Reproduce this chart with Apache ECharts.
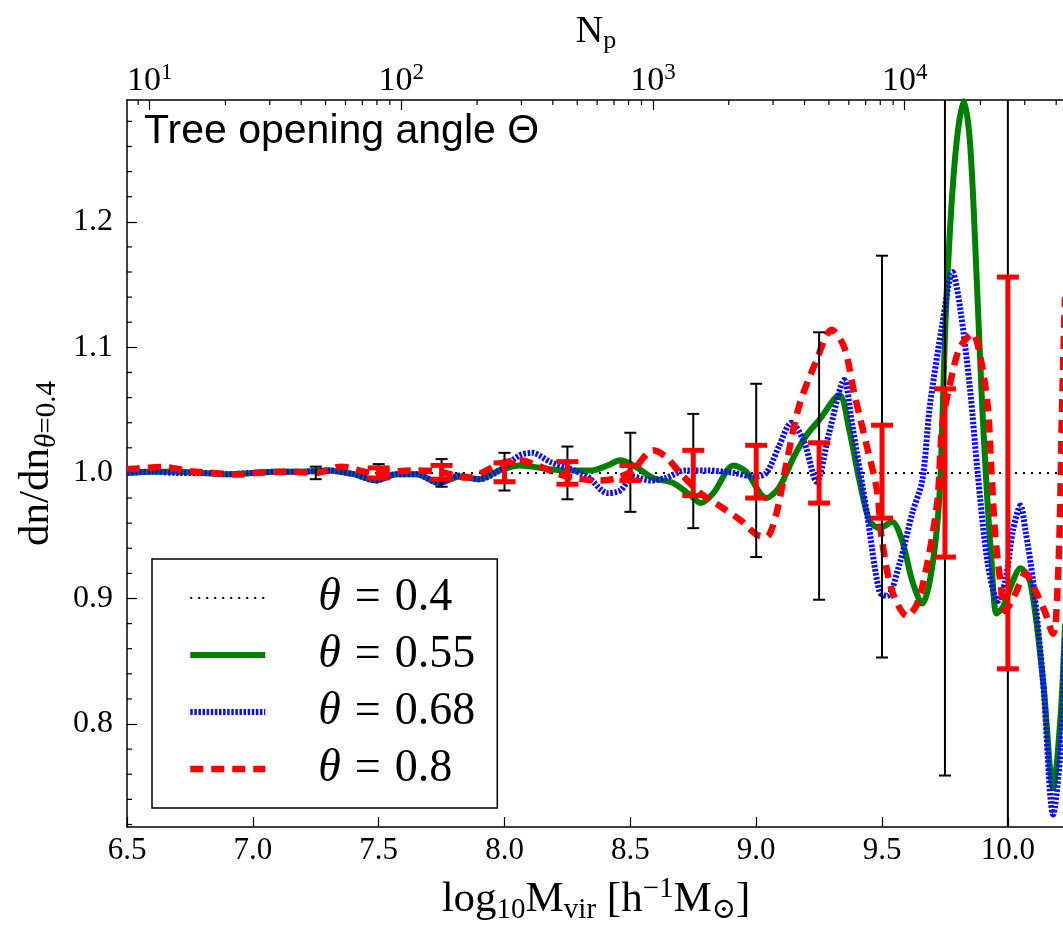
<!DOCTYPE html>
<html>
<head>
<meta charset="utf-8">
<script src="https://cdn.jsdelivr.net/npm/echarts@6/dist/echarts.min.js"></script>
<style>html,body{margin:0;padding:0;background:#fff}#c{width:1063px;height:927px}</style>
</head>
<body>
<div id="c"></div>
<script>
// ---------- axis ranges / ticks ----------
const X_MIN = 6.5, X_MAX = 10.227;
const Y_MIN = 0.718, Y_MAX = 1.297;
const NP_OFFSET = 5.59;                 // log10 M = log10 Np + offset
const Y_MINOR_TICKS = [0.72,0.74,0.76,0.78,0.82,0.84,0.86,0.88,0.92,0.94,0.96,0.98,1.02,1.04,1.06,1.08,1.12,1.14,1.16,1.18,1.22,1.24,1.26,1.28];
const NP_MINOR_TICKS = [9,20,30,40,50,60,70,80,90,200,300,400,500,600,700,800,900,2000,3000,4000,5000,6000,7000,8000,9000,20000,30000,40000];

// ---------- series ----------
const REF_X = [6.5, 10.3];
const REF_Y = [1.0, 1.0];

const GREEN_X = [6.50,6.60,6.70,6.80,6.90,7.00,7.10,7.20,7.30,7.40,7.49,7.57,7.65,7.74,7.82,7.90,7.98,8.06,8.11,8.18,8.25,8.35,8.41,8.46,8.52,8.59,8.67,8.74,8.78,8.83,8.91,8.96,9.04,9.09,9.15,9.20,9.25,9.33,9.37,9.41,9.45,9.49,9.54,9.58,9.62,9.66,9.69,9.72,9.735,9.75,9.775,9.80,9.825,9.85,9.875,9.895,9.915,9.935,9.955,9.98,10.02,10.05,10.09,10.14,10.18,10.21,10.227];
const GREEN_Y = [1.000,1.001,1.001,1.000,0.999,1.000,1.001,1.001,1.002,0.999,0.994,0.999,0.999,0.992,0.997,0.995,1.002,1.006,1.005,1.003,1.002,1.002,1.006,1.010,1.005,0.996,0.992,0.982,0.976,0.984,1.006,1.001,0.980,0.988,1.013,1.030,1.042,1.062,1.034,0.994,0.962,0.956,0.961,0.946,0.914,0.896,0.914,0.960,1.010,1.110,1.210,1.270,1.296,1.262,1.160,1.066,0.990,0.930,0.888,0.893,0.914,0.924,0.912,0.834,0.749,0.808,0.880];

const BLUE_X = [6.50,6.60,6.70,6.80,6.90,7.00,7.10,7.20,7.30,7.40,7.49,7.57,7.65,7.74,7.82,7.90,7.98,8.06,8.11,8.18,8.25,8.33,8.41,8.46,8.51,8.58,8.64,8.72,8.80,8.91,8.99,9.04,9.09,9.14,9.19,9.24,9.29,9.35,9.38,9.44,9.49,9.52,9.57,9.62,9.66,9.69,9.74,9.78,9.81,9.85,9.88,9.92,9.96,9.99,10.02,10.05,10.07,10.10,10.14,10.18,10.21,10.227];
const BLUE_Y = [1.000,1.001,1.000,1.000,0.999,1.000,1.001,1.001,1.002,0.999,0.994,0.999,0.999,0.992,0.998,0.995,1.002,1.014,1.016,1.009,1.004,0.997,0.984,0.986,0.997,0.994,0.996,1.002,1.002,1.000,0.997,1.000,1.021,1.040,1.025,0.993,1.032,1.074,1.040,0.968,0.905,0.902,0.928,0.968,0.994,1.053,1.119,1.160,1.132,1.066,1.000,0.928,0.898,0.914,0.954,0.974,0.954,0.914,0.834,0.728,0.781,0.870];

const RED_X = [6.50,6.54,6.64,6.75,6.84,6.94,7.03,7.15,7.25,7.35,7.48,7.64,7.74,7.85,7.99,8.06,8.13,8.21,8.29,8.38,8.44,8.51,8.56,8.59,8.64,8.70,8.78,8.86,8.94,9.00,9.04,9.08,9.12,9.17,9.24,9.30,9.35,9.39,9.44,9.48,9.50,9.54,9.60,9.64,9.68,9.72,9.74,9.78,9.81,9.86,9.89,9.92,9.935,9.95,9.97,9.99,10.03,10.07,10.11,10.15,10.18,10.19,10.205,10.215,10.227];
const RED_Y = [1.003,1.0035,1.0048,1.0014,1.000,0.9987,1.0003,1.001,1.000,1.005,1.000,1.002,1.001,0.9963,1.008,1.010,1.006,0.9995,0.9955,0.994,0.9955,1.002,1.014,1.018,1.013,0.9995,0.9836,0.973,0.962,0.951,0.949,0.9676,1.0075,1.053,1.090,1.114,1.100,1.063,1.021,0.986,0.946,0.906,0.886,0.896,0.928,0.978,1.039,1.080,1.100,1.111,1.093,1.053,1.000,0.950,0.914,0.890,0.904,0.920,0.906,0.888,0.872,0.880,0.950,1.050,1.140];

// error bars (theta = 0.4, black) and (theta = 0.8, red)
const ERR_BLACK_X  = [7.25,7.50,7.75,8.00,8.25,8.50,8.75,9.00,9.25,9.50,9.75,10.00];
const ERR_BLACK_LO = [0.995,0.995,0.989,0.986,0.979,0.969,0.956,0.933,0.899,0.853,0.759,0.600];
const ERR_BLACK_HI = [1.005,1.007,1.011,1.016,1.021,1.032,1.047,1.071,1.112,1.173,1.400,1.400];
const ERR_RED_X  = [7.50,7.75,8.00,8.25,8.50,8.75,9.00,9.25,9.50,9.75,10.00];
const ERR_RED_LO = [0.996,0.995,0.993,0.991,0.994,0.982,0.980,0.976,0.964,0.933,0.844];
const ERR_RED_HI = [1.004,1.006,1.008,1.009,1.006,1.018,1.022,1.024,1.038,1.067,1.156];

const NAMES = ['θ = 0.4', 'θ = 0.55', 'θ = 0.68', 'θ = 0.8'];

// ---------- build ----------
const zip = (xs, ys) => xs.map((x, i) => [x, ys[i]]);
const zip3 = (xs, a, b) => xs.map((x, i) => [x, a[i], b[i]]);
const SERIF = '"Liberation Serif", "DejaVu Serif", serif';

function errRender(color, lw, capW, capLw) {
  return function (params, api) {
    const x = api.value(0), lo = api.value(1), hi = api.value(2);
    const p1 = api.coord([x, lo]), p2 = api.coord([x, hi]);
    const h = capW / 2;
    return { type: 'group', children: [
      { type: 'line', shape: { x1: p1[0], y1: p1[1], x2: p2[0], y2: p2[1] }, style: { stroke: color, lineWidth: lw } },
      { type: 'line', shape: { x1: p1[0] - h, y1: p1[1], x2: p1[0] + h, y2: p1[1] }, style: { stroke: color, lineWidth: capLw } },
      { type: 'line', shape: { x1: p2[0] - h, y1: p2[1], x2: p2[0] + h, y2: p2[1] }, style: { stroke: color, lineWidth: capLw } }
    ]};
  };
}

const chart = echarts.init(document.getElementById('c'), null, { renderer: 'canvas' });
const option = {
  backgroundColor: '#fff',
  animation: false,
  title: {
    text: 'Tree opening angle Θ',
    left: 139, top: 106,
    textStyle: { fontFamily: '"Liberation Sans", Arial, sans-serif', fontSize: 41, fontWeight: 'normal', color: '#000' }
  },
  grid: { left: 127, right: -2, top: 100, bottom: 100, containLabel: false, outerBoundsMode: 'none' },
  legend: {
    data: NAMES,
    orient: 'vertical',
    left: 152, top: 559,
    padding: [16, 22, 16, 35],
    itemWidth: 75, itemHeight: 20, itemGap: 11,
    backgroundColor: '#fff', borderColor: '#000', borderWidth: 1.5, borderRadius: 0,
    lineStyle: { width: 'inherit' },
    itemStyle: { opacity: 0 },
    selectedMode: false,
    formatter: n => '{t|θ}{e|=}{n|' + n.split('= ')[1] + '}',
    textStyle: {
      color: '#000',
      rich: {
        t: { fontFamily: SERIF, fontStyle: 'italic', fontSize: 46, lineHeight: 46, padding: [0, 0, 0, 48], color: '#000' },
        e: { fontFamily: SERIF, fontSize: 46, lineHeight: 46, padding: [0, 14, 0, 14], color: '#000' },
        n: { fontFamily: SERIF, fontSize: 46, lineHeight: 46, color: '#000' }
      }
    }
  },
  xAxis: [
    {
      type: 'value', min: X_MIN, max: X_MAX, interval: 0.5, position: 'bottom',
      axisLine: { lineStyle: { color: '#000', width: 1.5 } },
      axisTick: { inside: true, length: 10, lineStyle: { color: '#000', width: 1.2 } },
      axisLabel: { formatter: v => v.toFixed(1), showMaxLabel: false, margin: 8, fontFamily: SERIF, fontSize: 31, color: '#000' },
      splitLine: { show: false },
      name: '{n|log}{s|10}{n|M}{s|vir}{n| [h}{u|−1}{n|M}{s|⊙}{n|]}',
      nameLocation: 'middle', nameGap: 48,
      nameTextStyle: { color: '#000', rich: {
        n: { fontFamily: SERIF, fontSize: 43, lineHeight: 50, color: '#000' },
        s: { fontFamily: SERIF, fontSize: 29, lineHeight: 20, verticalAlign: 'bottom', color: '#000' },
        u: { fontFamily: SERIF, fontSize: 29, lineHeight: 20, verticalAlign: 'top', color: '#000' }
      } }
    },
    {
      type: 'log', logBase: 10, position: 'top',
      min: Math.pow(10, X_MIN - NP_OFFSET), max: Math.pow(10, X_MAX - NP_OFFSET),
      axisLine: { lineStyle: { color: '#000', width: 1.5 } },
      axisTick: { inside: true, length: 10, lineStyle: { color: '#000', width: 1.2 } },
      axisLabel: {
        showMinLabel: false, showMaxLabel: false, margin: -1,
        formatter: v => '{b|10}{s|' + Math.round(Math.log10(v)) + '}',
        rich: {
          b: { fontFamily: SERIF, fontSize: 34, lineHeight: 40, color: '#000' },
          s: { fontFamily: SERIF, fontSize: 23, lineHeight: 18, verticalAlign: 'top', color: '#000' }
        }
      },
      splitLine: { show: false }, minorTick: { show: false },
      name: '{n|N}{s|p}', nameLocation: 'middle', nameGap: 46,
      nameTextStyle: { rich: {
        n: { fontFamily: SERIF, fontSize: 38, lineHeight: 44, color: '#000' },
        s: { fontFamily: SERIF, fontSize: 26, lineHeight: 18, verticalAlign: 'bottom', color: '#000' }
      } }
    }
  ],
  yAxis: {
    type: 'value', min: Y_MIN, max: Y_MAX,
    axisLine: { show: true, lineStyle: { color: '#000', width: 1.5 } },
    axisTick: { show: true, inside: true, length: 10, lineStyle: { color: '#000', width: 1.2 } },
    axisLabel: { formatter: v => v.toFixed(1), showMinLabel: false, showMaxLabel: false, margin: 14, fontFamily: SERIF, fontSize: 32, color: '#000' },
    splitLine: { show: false },
    name: '{n|dn/dn}{si|θ}{s|=0.4}', nameLocation: 'middle', nameGap: 62,
    nameTextStyle: { rich: {
      n: { fontFamily: SERIF, fontSize: 43, lineHeight: 50, color: '#000' },
      si: { fontFamily: SERIF, fontStyle: 'italic', fontSize: 29, lineHeight: 20, verticalAlign: 'bottom', color: '#000' },
      s: { fontFamily: SERIF, fontSize: 29, lineHeight: 20, verticalAlign: 'bottom', color: '#000' }
    } }
  },
  series: [
    { name: NAMES[0], type: 'line', data: zip(REF_X, REF_Y), showSymbol: false, symbol: 'none', clip: true, z: 2,
      lineStyle: { color: '#000', width: 2, type: [2, 6] }, itemStyle: { color: '#000' } },
    { name: NAMES[1], type: 'line', data: zip(GREEN_X, GREEN_Y), showSymbol: false, symbol: 'none', smooth: 0.3, clip: true, z: 3,
      lineStyle: { color: '#008000', width: 6 }, itemStyle: { color: '#008000' } },
    { name: NAMES[2], type: 'line', data: zip(BLUE_X, BLUE_Y), showSymbol: false, symbol: 'none', smooth: 0.3, clip: true, z: 4,
      lineStyle: { color: '#0a0aff', width: 6, type: [2.5, 1.6] }, itemStyle: { color: '#0a0aff' } },
    { name: NAMES[3], type: 'line', data: zip(RED_X, RED_Y), showSymbol: false, symbol: 'none', smooth: 0.3, clip: true, z: 5,
      lineStyle: { color: '#ff0000', width: 6.5, type: [13, 8] }, itemStyle: { color: '#ff0000' } },
    { type: 'custom', name: 'err04', data: zip3(ERR_BLACK_X, ERR_BLACK_LO, ERR_BLACK_HI), clip: true, z: 6,
      renderItem: errRender('#000', 2, 12, 2), encode: { x: 0, y: [1, 2] } },
    { type: 'custom', name: 'err08', data: zip3(ERR_RED_X, ERR_RED_LO, ERR_RED_HI), clip: true, z: 7,
      renderItem: errRender('#ff0000', 5, 22, 5), encode: { x: 0, y: [1, 2] } },
    { type: 'custom', name: 'npMinor', data: NP_MINOR_TICKS.map(n => [NP_OFFSET + Math.log10(n), Y_MAX]), z: 8, silent: true,
      renderItem: (p, api) => { const c = api.coord([api.value(0), Y_MAX]);
        return { type: 'line', shape: { x1: c[0], y1: c[1], x2: c[0], y2: c[1] + 5 }, style: { stroke: '#000', lineWidth: 1.2 } }; },
      encode: { x: 0, y: 1 } },
    { type: 'custom', name: 'yMinor', data: Y_MINOR_TICKS.map(v => [X_MIN, v]), z: 8, silent: true,
      renderItem: (p, api) => { const c = api.coord([X_MIN, api.value(1)]);
        return { type: 'line', shape: { x1: c[0], y1: c[1], x2: c[0] + 5, y2: c[1] }, style: { stroke: '#000', lineWidth: 1.2 } }; },
      encode: { x: 0, y: 1 } }
  ]
};
chart.setOption(option);
</script>
</body>
</html>
